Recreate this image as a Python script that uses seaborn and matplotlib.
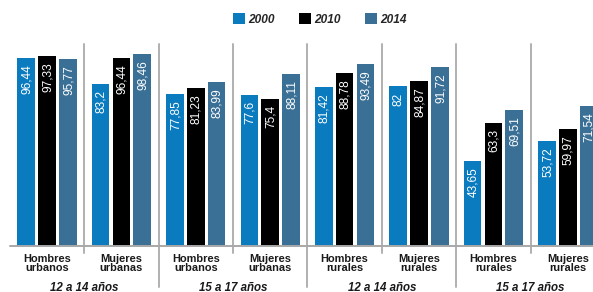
import pandas as pd
import seaborn as sns
import matplotlib.pyplot as plt
import matplotlib.transforms as mtransforms
from matplotlib.patches import Patch

# Data
groups = ["Hombres\nurbanos", "Mujeres\nurbanas", "Hombres\nurbanos", "Mujeres\nurbanas",
          "Hombres\nrurales", "Mujeres\nrurales", "Hombres\nrurales", "Mujeres\nrurales"]
ages = ["12 a 14 años", "15 a 17 años", "12 a 14 años", "15 a 17 años"]
years = ["2000", "2010", "2014"]
v2000 = [96.44, 83.2, 77.85, 77.6, 81.42, 82, 43.65, 53.72]
v2010 = [97.33, 96.44, 81.23, 75.4, 88.78, 84.87, 63.3, 59.97]
v2014 = [95.77, 98.46, 83.99, 88.11, 93.49, 91.72, 69.51, 71.54]
colors = ["#0a7bbf", "#000000", "#3a6f96"]

rows = []
for yr, vals in zip(years, [v2000, v2010, v2014]):
    for i, v in enumerate(vals):
        rows.append({"grupo": i, "year": yr, "valor": v})
df = pd.DataFrame(rows)

sns.set_theme(style="white")
plt.rcParams['font.family'] = ['Liberation Sans', 'DejaVu Sans']

fig = plt.figure(figsize=(5.93, 2.92), dpi=100)
ax = fig.add_axes([0, 46 / 292, 1, 202 / 292])

sns.barplot(data=df, x="grupo", y="valor", hue="year", hue_order=years,
            palette=colors, width=0.84, gap=0.15, saturation=1,
            edgecolor="none", linewidth=0, legend=False, ax=ax)

ax.set_xlim(-47 / 74.4, (593 - 47) / 74.4)
ax.set_ylim(0, 202 / 1.95)
for s in ax.spines.values():
    s.set_visible(False)
ax.set_yticks([])
ax.set_ylabel("")
ax.set_xlabel("")

# value labels inside the bars
for cont in ax.containers:
    for bar in cont:
        h = bar.get_height()
        txt = f"{h:g}".replace(".", ",")
        ax.annotate(txt, (bar.get_x() + bar.get_width() / 2, h),
                    xytext=(0.5, -4.5), textcoords="offset points",
                    rotation=90, ha="center", va="top", color="white",
                    fontsize=8.6)

ax.set_xticks(range(len(groups)))
ax.set_xticklabels(groups, fontweight="bold", fontsize=7.9, linespacing=0.9,
                   color="#1a1a1a")
ax.tick_params(axis="x", length=0, pad=5.5)

trans = mtransforms.blended_transform_factory(ax.transData, ax.transAxes)
# separators
for x in [0.5, 1.5, 2.5, 3.5, 4.5, 5.5, 6.5]:
    low = -0.205 if x in (1.5, 3.5, 5.5) else -0.035
    ax.plot([x, x], [low, 1], transform=trans, color="#b0b0b0", lw=1.4, clip_on=False)
# baseline
ax.plot([10 / 593, 1], [0, 0], transform=ax.transAxes, color="#a8a8a8", lw=1.4, clip_on=False)

# age group labels
for x, lab in zip([0.5, 2.5, 4.5, 6.5], ages):
    ax.text(x, -0.177, lab, transform=trans, ha="center", va="top",
            fontsize=8.3, fontweight="bold", fontstyle="italic", color="#1a1a1a")

handles = [Patch(facecolor=c, edgecolor="none") for c in colors]
fig.legend(handles, years, loc="center", bbox_to_anchor=(320 / 593, 1 - 19.5 / 292),
           ncol=3, frameon=False, handlelength=0.95, handleheight=1.0,
           handletextpad=0.3, columnspacing=2.05, borderpad=0,
           prop={"weight": "bold", "style": "italic", "size": 8.6})

fig.savefig("out.png", dpi=100)
